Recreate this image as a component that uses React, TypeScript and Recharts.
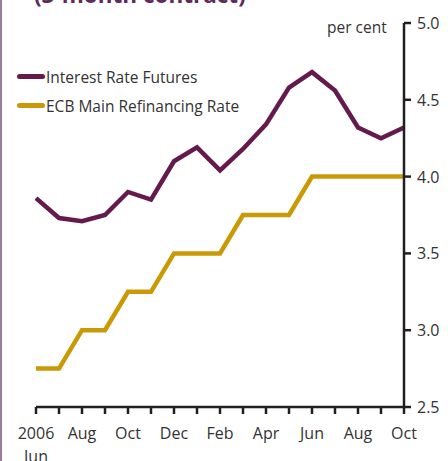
import React from 'react';
import { LineChart, Line, XAxis, YAxis } from 'recharts';

const months = ['Jun','Jul','Aug','Sep','Oct','Nov','Dec','Jan','Feb','Mar','Apr','May','Jun','Jul','Aug','Sep','Oct'];
const futures = [3.86,3.73,3.71,3.75,3.9,3.85,4.1,4.19,4.04,4.18,4.34,4.58,4.68,4.56,4.32,4.25,4.32];
const ecb = [2.75,2.75,3.0,3.0,3.25,3.25,3.5,3.5,3.5,3.75,3.75,3.75,4.0,4.0,4.0,4.0,4.0];
const yTicks = [2.5,3.0,3.5,4.0,4.5,5.0];
const seriesNames = ['Interest Rate Futures', 'ECB Main Refinancing Rate'];

const data = months.map((m, i) => ({ idx: i, month: m, futures: futures[i], ecb: ecb[i] }));

const PURPLE = '#641a4c';
const GOLD = '#c99a06';
const FONT = '"Open Sans", "DejaVu Sans", sans-serif';

const XTick = (props: any) => {
  const { x, y, payload, index } = props;
  if (index % 2 !== 0) return null;
  const m = months[payload.value];
  const first = payload.value === 0;
  return (
    <g>
      <text x={x} y={y + 23} textAnchor="middle" fill="#333" fontSize={16} fontFamily={FONT}>{first ? '2006' : m}</text>
      {first && <text x={x} y={y + 46} textAnchor="middle" fill="#333" fontSize={16} fontFamily={FONT}>Jun</text>}
    </g>
  );
};

const YTick = (props: any) => {
  const { x, y, payload } = props;
  return (
    <text x={x + 4} y={y + 6} textAnchor="start" fill="#333" fontSize={16} fontFamily={FONT}>{payload.value.toFixed(1)}</text>
  );
};

export default function App() {
  return (
    <div style={{ position: 'relative', width: 448, height: 461, overflow: 'hidden', background: '#fff' }}>
      <style>{`body{margin:0}`}</style>
      <div style={{ position: 'absolute', left: 0, top: 0, width: 2, height: 461, background: '#9a7e9a' }} />
      <div style={{ position: 'absolute', left: 34, top: -21, fontFamily: FONT, fontWeight: 700, fontSize: 22.5, color: '#5e2a5c', whiteSpace: 'nowrap' }}>(3-month contract)</div>
      <div style={{ position: 'absolute', left: 327, top: 16, fontFamily: FONT, fontSize: 15.5, color: '#333' }}>per cent</div>
      <div style={{ position: 'absolute', left: 17, top: 62, fontFamily: FONT, fontSize: 15.5, color: '#333', zIndex: 2 }}>
        {[PURPLE, GOLD].map((c, i) => (
          <div key={i} style={{ display: 'flex', alignItems: 'center', height: 29 }}>
            <div style={{ width: 28, height: 5, borderRadius: 3, background: c, marginRight: 1 }} />
            <span>{seriesNames[i]}</span>
          </div>
        ))}
      </div>
      <div style={{ position: 'absolute', left: 0, top: 0 }}>
        <LineChart width={448} height={461} data={data} margin={{ top: 23, right: 0, bottom: 0, left: 36 }}>
          <XAxis
            dataKey="idx"
            type="number"
            domain={[0, 16]}
            ticks={data.map((d) => d.idx)}
            interval={0}
            height={54}
            axisLine={{ stroke: '#231f20', strokeWidth: 2.5 }}
            tickLine={{ stroke: '#231f20', strokeWidth: 2.5 }}
            tickSize={7}
            tick={<XTick />}
          />
          <YAxis
            orientation="right"
            domain={[2.5, 5]}
            ticks={yTicks}
            width={44}
            axisLine={{ stroke: '#231f20', strokeWidth: 2.5 }}
            tickLine={{ stroke: '#231f20', strokeWidth: 2.5 }}
            tickSize={7}
            tick={<YTick />}
          />
          <Line dataKey="futures" name={seriesNames[0]} stroke={PURPLE} strokeWidth={4.5} dot={false} isAnimationActive={false} />
          <Line dataKey="ecb" name={seriesNames[1]} stroke={GOLD} strokeWidth={4.5} dot={false} isAnimationActive={false} />
        </LineChart>
      </div>
    </div>
  );
}
